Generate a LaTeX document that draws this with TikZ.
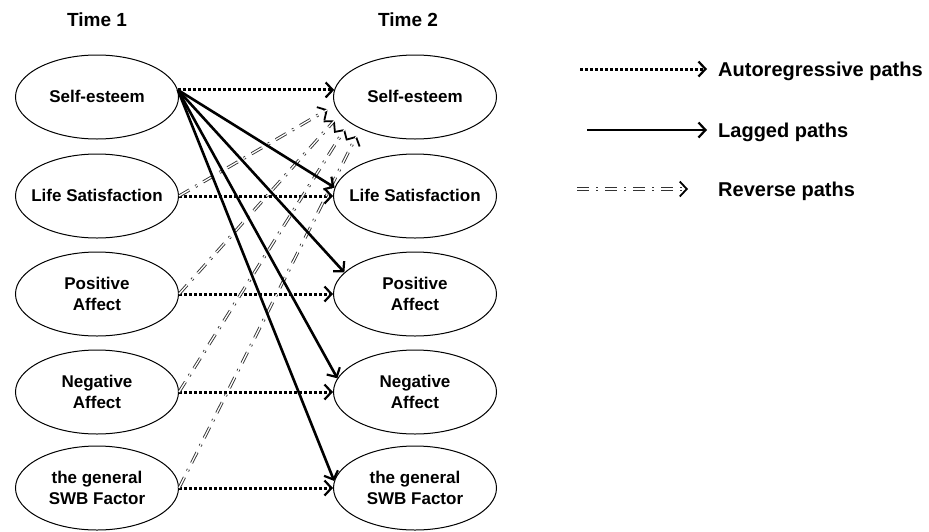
\documentclass[tikz,border=0pt]{standalone}
\usepackage{fontspec}
\setmainfont{Liberation Sans}
\usetikzlibrary{shapes.geometric}
\usetikzlibrary{arrows.meta}
\newcommand{\lbl}[1]{\makebox[0pt]{\raisebox{-6pt}[0pt][0pt]{\begin{tabular}{@{}c@{}}#1\end{tabular}}}}

\begin{document}
\begin{tikzpicture}[x=1pt,y=-1pt,
  var/.style={ellipse,draw,line width=1pt,minimum width=163pt,minimum height=84pt,inner sep=0pt,font=\fontsize{17}{21}\selectfont\bfseries},
  autopath/.style={line width=3pt,dash pattern=on 3pt off 2pt,-{Straight Barb[length=7pt,width=15pt,line width=2.2pt]}},
  lagpath/.style={line width=2.6pt,-{Straight Barb[length=7pt,width=15pt,line width=2.2pt]}},
  revdash/.style={dash pattern=on 12pt off 7pt on 2pt off 7pt},
  revpath/.style={draw=white,line width=1.3pt,revdash,shorten >=8pt,
    preaction={draw=black!80,line width=3.1pt,revdash,-{Straight Barb[length=7pt,width=15pt,line width=1.8pt,black]}}},
  legtext/.style={anchor=west,inner sep=0pt,font=\fontsize{20}{24}\selectfont\bfseries},
  timetext/.style={font=\fontsize{19}{23}\selectfont\bfseries}]
\useasboundingbox (0,0) rectangle (929,531);
\node[timetext] (T1) at (97,20) {Time 1};
\node[timetext] (T2) at (408,20) {Time 2};
\node[var] (SE1) at (97,97) {\lbl{Self-esteem}};
\node[var] (LS1) at (97,196) {\lbl{Life Satisfaction}};
\node[var] (PA1) at (97,294) {\lbl{Positive\\Affect}};
\node[var] (NA1) at (97,392) {\lbl{Negative\\Affect}};
\node[var] (SW1) at (97,488) {\lbl{the general\\SWB Factor}};
\node[var] (SE2) at (415,97) {\lbl{Self-esteem}};
\node[var] (LS2) at (415,196) {\lbl{Life Satisfaction}};
\node[var] (PA2) at (415,294) {\lbl{Positive\\Affect}};
\node[var] (NA2) at (415,392) {\lbl{Negative\\Affect}};
\node[var] (SW2) at (415,488) {\lbl{the general\\SWB Factor}};
\draw[autopath] (SE1.5) -- (SE2.175);
\draw[autopath] (LS1) -- (LS2);
\draw[autopath] (PA1) -- (PA2);
\draw[autopath] (NA1) -- (NA2);
\draw[autopath] (SW1) -- (SW2);
\draw[revpath] (LS1.east) -- (SE2.186);
\draw[revpath] (PA1.east) -- (SE2.193);
\draw[revpath] (NA1.east) -- (SE2.201);
\draw[revpath] (SW1.east) -- (SE2.210);
\draw[lagpath] (SE1.5) -- (LS2.174);
\draw[lagpath] (SE1.5) -- (PA2.163);
\draw[lagpath] (SE1.5) -- (NA2.170);
\draw[lagpath] (SE1.5) -- (SW2.175);
\node[legtext] (LA) at (718,71) {Autoregressive paths};
\node[legtext] (LL) at (718,132) {Lagged paths};
\node[legtext] (LR) at (718,191) {Reverse paths};
\coordinate (LA0) at (580,69);
\coordinate (LL0) at (587,130);
\coordinate (LR0) at (577,189);
\draw[autopath] (LA0) -- ([xshift=-11pt,yshift=2pt]LA.west);
\draw[lagpath] (LL0) -- ([xshift=-11pt,yshift=2pt]LL.west);
\draw[revpath] (LR0) -- ([xshift=-22pt,yshift=2pt]LR.west);
\end{tikzpicture}
\end{document}
